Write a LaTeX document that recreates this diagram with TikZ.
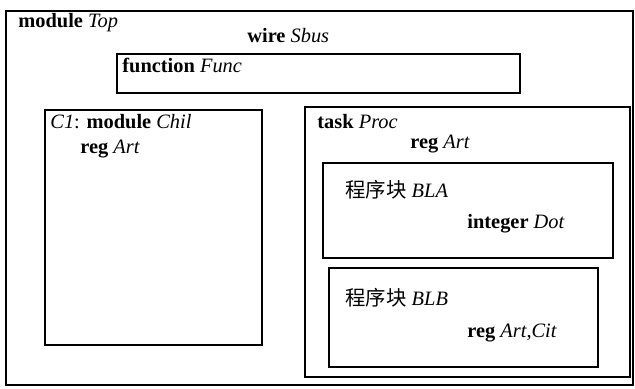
\documentclass[tikz,border=0pt]{standalone}
\usepackage{fontspec}
\setmainfont{Liberation Serif}
\newfontfamily\cjk{Noto Sans CJK SC}
\usepackage{tikz}
\usetikzlibrary{positioning,fit}

\begin{document}
\begin{tikzpicture}[
  x=0.5pt, y=-0.5pt,
  box/.style={draw, line width=0.9pt, inner sep=0pt},
  inbox/.style={box, line width=0.8pt},
  lbl/.style={anchor=base west, inner sep=0pt, font=\fontsize{10.2}{12}\selectfont},
  kw/.style={lbl}
]
\useasboundingbox (0,0) rectangle (635,388);

% Outer module
\node[box, fit={(6,11) (633,385)}] (top) {};
\node[lbl] (toplbl) at (18,27) {\textbf{module} \textit{Top}};
\node[lbl] (sbus) at (247,42) {\textbf{wire} \textit{Sbus}};

% Function
\node[inbox, fit={(117,54) (520,93)}] (func) {};
\node[lbl] (funclbl) at (122,72) {\textbf{function} \textit{Func}};

% Child instance
\node[inbox, fit={(45,110) (262,345)}] (chil) {};
\node[lbl] (chillbl) at (50,128) {\textit{C1}: \textbf{module} \textit{Chil}};
\node[lbl] (chilart) at (80,153) {\textbf{reg} \textit{Art}};

% Task and its blocks
\node[inbox, fit={(305,107) (630,377)}] (proc) {};
\node[lbl] (proclbl) at (317,128) {\textbf{task} \textit{Proc}};
\node[lbl] (procart) at (410,148) {\textbf{reg} \textit{Art}};

\node[inbox, fit={(323,163) (613,258)}] (bla) {};
\node[lbl] (blalbl) at (345,197) {{\cjk 程序块} \textit{BLA}};
\node[lbl] (dot) at (467,228) {\textbf{integer} \textit{Dot}};

\node[inbox, fit={(329,268) (598,367)}] (blb) {};
\node[lbl] (blblbl) at (345,305) {{\cjk 程序块} \textit{BLB}};
\node[lbl] (cit) at (467,337) {\textbf{reg} \textit{Art},\textit{Cit}};

\end{tikzpicture}
\end{document}
